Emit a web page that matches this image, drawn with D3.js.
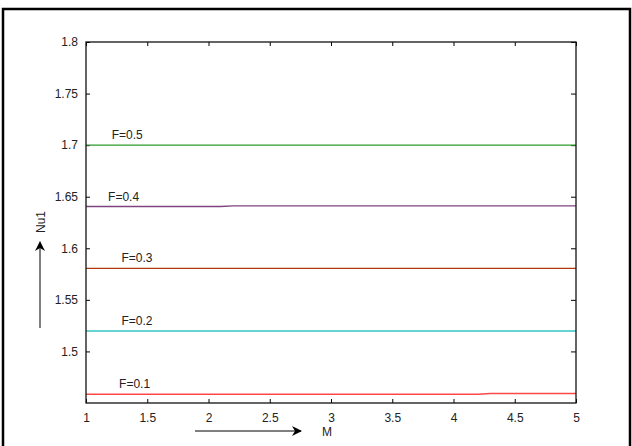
<!DOCTYPE html>
<html>
<head>
<meta charset="utf-8">
<script src="https://d3js.org/d3.v7.min.js"></script>
<style>
  body { margin: 0; background: #fff; }
  svg text { font-family: "Liberation Sans", Arial, sans-serif; fill: #222; }
</style>
</head>
<body>
<svg width="632" height="446"></svg>
<script>
// data
var mValues = [1, 1.5, 2, 2.1, 2.2, 2.5, 3, 3.5, 4, 4.2, 4.3, 4.5, 5];
var nuF05 = [1.700, 1.700, 1.700, 1.700, 1.700, 1.700, 1.700, 1.700, 1.700, 1.700, 1.700, 1.700, 1.700];
var nuF04 = [1.6405, 1.6405, 1.6405, 1.6405, 1.6412, 1.6412, 1.6412, 1.6412, 1.6412, 1.6412, 1.6412, 1.6412, 1.6412];
var nuF03 = [1.5805, 1.5805, 1.5805, 1.5805, 1.5805, 1.5805, 1.5805, 1.5805, 1.5805, 1.5805, 1.5805, 1.5805, 1.5805];
var nuF02 = [1.5198, 1.5198, 1.5198, 1.5198, 1.5198, 1.5198, 1.5198, 1.5198, 1.5198, 1.5198, 1.5198, 1.5198, 1.5198];
var nuF01 = [1.4585, 1.4585, 1.4585, 1.4585, 1.4585, 1.4585, 1.4585, 1.4585, 1.4585, 1.4585, 1.4592, 1.4592, 1.4592];
var seriesNames = ["F=0.5", "F=0.4", "F=0.3", "F=0.2", "F=0.1"];
var labelM = [1.21, 1.18, 1.29, 1.29, 1.27];
var xTicks = [1, 1.5, 2, 2.5, 3, 3.5, 4, 4.5, 5];
var yTicks = [1.5, 1.55, 1.6, 1.65, 1.7, 1.75, 1.8];
var colors = ["#2a9a2a", "#7e4480", "#b0380c", "#33c4c4", "#ff4848"];

var allSeries = [nuF05, nuF04, nuF03, nuF02, nuF01];

var svg = d3.select("svg");

// outer frame
svg.append("rect")
  .attr("x", 3).attr("y", 9)
  .attr("width", 627).attr("height", 445)
  .attr("fill", "none")
  .attr("stroke", "#000")
  .attr("stroke-width", 2.5);

var pLeft = 86, pRight = 576, pTop = 42, pBottom = 403;
var x = d3.scaleLinear().domain([1, 5]).range([pLeft, pRight]);
var y = d3.scaleLinear().domain([1.45, 1.8]).range([pBottom, pTop]);

// axes, ticks inside on all sides like matlab
svg.append("g")
  .attr("transform", "translate(0," + pBottom + ")")
  .call(d3.axisBottom(x).tickValues(xTicks).tickSize(-4).tickPadding(10)
    .tickFormat(d3.format("")))
  .call(function(g) {
    g.select(".domain").remove();
    g.selectAll("text").attr("font-size", "12px").attr("fill", "#222");
  });

svg.append("g")
  .attr("transform", "translate(" + pLeft + ",0)")
  .call(d3.axisLeft(y).tickValues(yTicks).tickSize(-4).tickPadding(8)
    .tickFormat(d3.format("")))
  .call(function(g) {
    g.select(".domain").remove();
    g.selectAll("text").attr("font-size", "12px").attr("fill", "#222");
  });

svg.append("g")
  .attr("transform", "translate(0," + pTop + ")")
  .call(d3.axisTop(x).tickValues(xTicks).tickSize(-4).tickFormat(""))
  .call(function(g) { g.select(".domain").remove(); });

svg.append("g")
  .attr("transform", "translate(" + pRight + ",0)")
  .call(d3.axisRight(y).tickValues(yTicks).tickSize(-5).tickFormat(""))
  .call(function(g) { g.select(".domain").remove(); });

// lines
var line = d3.line()
  .x(function(d) { return x(d[0]); })
  .y(function(d) { return y(d[1]); });

allSeries.forEach(function(vals, i) {
  var pts = mValues.map(function(m, j) { return [m, vals[j]]; });
  svg.append("path")
    .datum(pts)
    .attr("d", line)
    .attr("fill", "none")
    .attr("stroke", colors[i])
    .attr("stroke-width", 1.3);

  svg.append("text")
    .attr("x", x(labelM[i]))
    .attr("y", y(vals[0]) - 6)
    .attr("font-size", "12px")
    .text(seriesNames[i]);
});

// plot box
svg.append("rect")
  .attr("x", pLeft).attr("y", pTop)
  .attr("width", pRight - pLeft).attr("height", pBottom - pTop)
  .attr("fill", "none")
  .attr("stroke", "#111")
  .attr("stroke-width", 1.3);

// axis labels with arrows
var defs = svg.append("defs");
defs.append("marker")
  .attr("id", "arr")
  .attr("viewBox", "0 0 10 10")
  .attr("refX", 9).attr("refY", 5)
  .attr("markerWidth", 10).attr("markerHeight", 10)
  .attr("markerUnits", "userSpaceOnUse")
  .attr("orient", "auto")
  .append("path")
  .attr("d", "M0,0 L10,5 L0,10 L3,5 Z")
  .attr("fill", "#000");

svg.append("line")
  .attr("x1", 40).attr("y1", 328)
  .attr("x2", 40).attr("y2", 242)
  .attr("stroke", "#000").attr("stroke-width", 1)
  .attr("marker-end", "url(#arr)");

svg.append("text")
  .attr("transform", "translate(45,222) rotate(-90)")
  .attr("text-anchor", "middle")
  .attr("font-size", "12px")
  .text("Nu1");

svg.append("line")
  .attr("x1", 195).attr("y1", 431)
  .attr("x2", 301).attr("y2", 431)
  .attr("stroke", "#000").attr("stroke-width", 1)
  .attr("marker-end", "url(#arr)");

svg.append("text")
  .attr("x", 327).attr("y", 436)
  .attr("text-anchor", "middle")
  .attr("font-size", "12px")
  .text("M");
</script>
</body>
</html>
